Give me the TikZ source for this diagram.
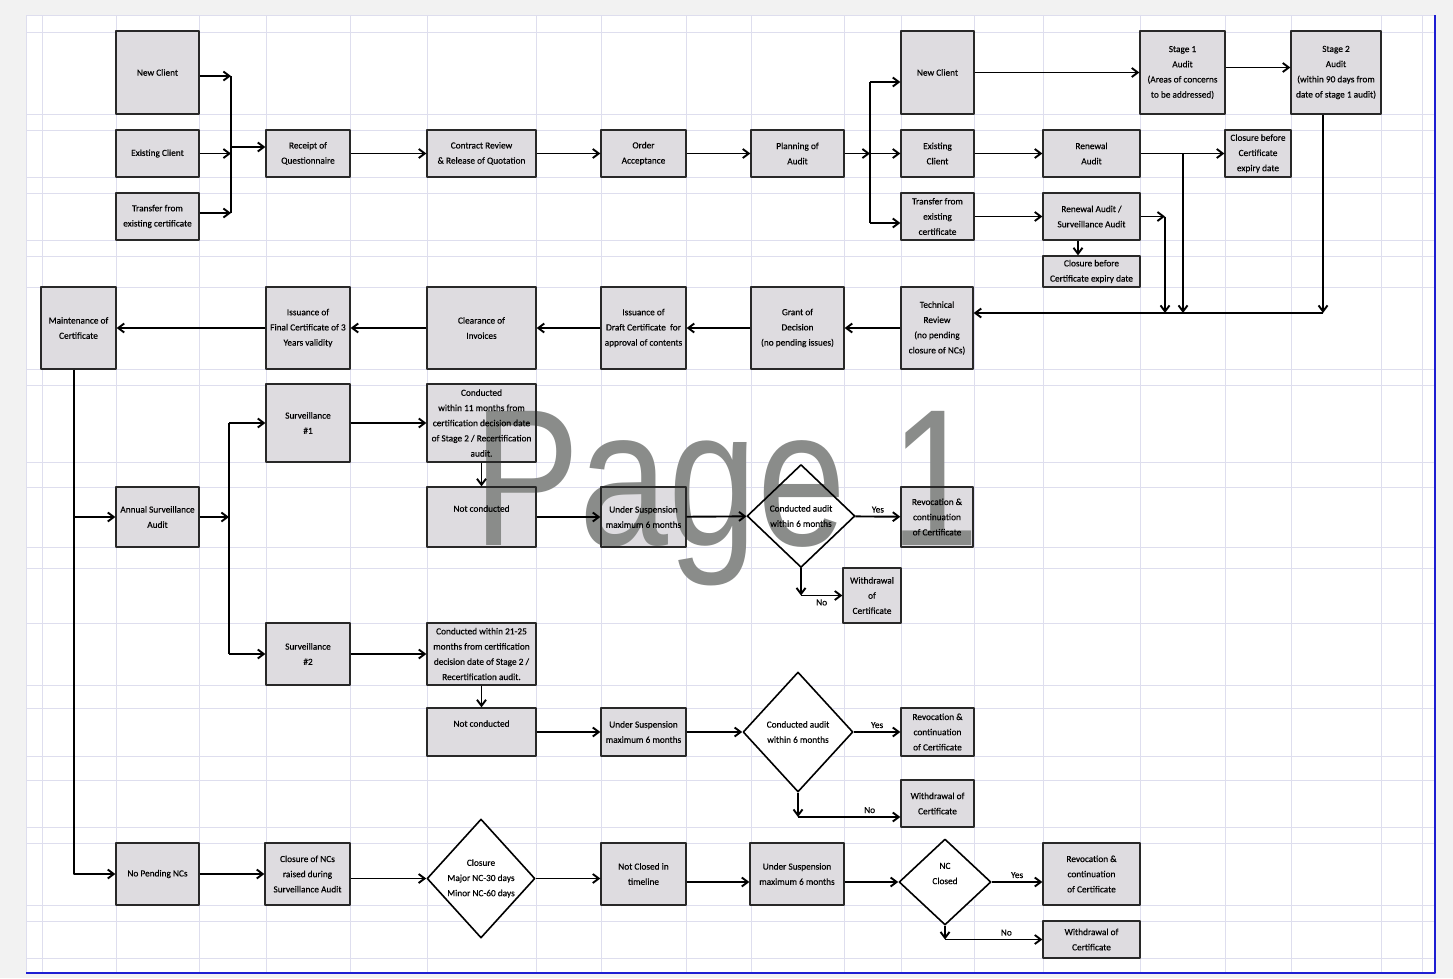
\documentclass[tikz,border=0pt]{standalone}
\usepackage{fontspec}
\setmainfont{Carlito}[FakeBold=0.3]
\newfontfamily\wmfont{Liberation Sans}
\usetikzlibrary{shapes.geometric,arrows.meta,backgrounds}
\definecolor{boxgray}{RGB}{222,220,224}
\definecolor{boxline}{RGB}{40,40,40}
\definecolor{gridc}{RGB}{222,222,238}
\definecolor{pagegray}{RGB}{242,242,242}
\definecolor{pageblue}{RGB}{30,30,210}
\definecolor{wmgray}{RGB}{138,140,138}
\begin{document}
\begin{tikzpicture}[x=1pt,y=-1pt,line join=round,>={Straight Barb[length=6pt,width=9pt]},
    box/.style={draw=boxline,line width=1.3pt,align=center,inner sep=0.5pt,font=\fontsize{9.3}{15.2}\selectfont},
    dia/.style={diamond,draw,line width=1.6pt,align=center,inner sep=0pt,font=\fontsize{9.3}{15.2}\selectfont},
    topline/.style={text depth=17pt},
    conn/.style={line width=1.9pt},
    lbl/.style={font=\fontsize{9.3}{11}\selectfont,inner sep=3pt},
    gridline/.style={draw=gridc,line width=0.9pt}]
    \useasboundingbox (0,0) rectangle (1453,978);
    \node[box,minimum width=83pt,minimum height=83pt] (nc1) at (157.5,72.5) {New Client};
    \node[box,minimum width=83pt,minimum height=47pt] (ec1) at (157.5,153.5) {Existing Client};
    \node[box,minimum width=83pt,minimum height=47pt] (tr1) at (157.5,216.5) {Transfer from\\existing certificate};
    \node[box,minimum width=84pt,minimum height=47pt] (rq) at (308,153.5) {Receipt of\\Questionnaire};
    \node[box,minimum width=109pt,minimum height=47pt] (cr) at (481.5,153.5) {Contract Review\\\& Release of Quotation};
    \node[box,minimum width=85pt,minimum height=47pt] (oa) at (643.5,153.5) {Order\\Acceptance};
    \node[box,minimum width=93pt,minimum height=47pt] (pa) at (797.5,153.5) {Planning of\\Audit};
    \node[box,minimum width=73pt,minimum height=83pt] (nc2) at (937.5,72.5) {New Client};
    \node[box,minimum width=73pt,minimum height=47pt] (ec2) at (937.5,153.5) {Existing\\Client};
    \node[box,minimum width=73pt,minimum height=47pt] (tr2) at (937.5,216.5) {Transfer from\\existing\\certificate};
    \node[box,minimum width=85pt,minimum height=83pt] (s1) at (1182.5,72.5) {Stage 1\\Audit\\(Areas of concerns\\to be addressed)};
    \node[box,minimum width=90pt,minimum height=83pt] (s2) at (1336,72.5) {Stage 2\\Audit\\(within 90 days from\\date of stage 1 audit)};
    \node[box,minimum width=97pt,minimum height=47pt] (ra) at (1091.5,153.5) {Renewal\\Audit};
    \node[box,minimum width=66pt,minimum height=47pt] (cb1) at (1258,153.5) {Closure before\\Certificate\\expiry date};
    \node[box,minimum width=97pt,minimum height=47pt] (rs) at (1091.5,216.5) {Renewal Audit /\\Surveillance Audit};
    \node[box,minimum width=97pt,minimum height=31pt] (cb2) at (1091.5,271.5) {Closure before\\Certificate expiry date};
    \node[box,minimum width=75pt,minimum height=82pt] (mc) at (78.5,328) {Maintenance of\\Certificate};
    \node[box,minimum width=84pt,minimum height=82pt] (fc) at (308,328) {Issuance of\\Final Certificate of 3\\Years validity};
    \node[box,minimum width=109pt,minimum height=82pt] (ci) at (481.5,328) {Clearance of\\Invoices};
    \node[box,minimum width=85pt,minimum height=82pt] (dc) at (643.5,328) {Issuance of\\Draft Certificate\ \ for\\approval of contents};
    \node[box,minimum width=93pt,minimum height=82pt] (gd) at (797.5,328) {Grant of\\Decision\\(no pending issues)};
    \node[box,minimum width=72pt,minimum height=82pt] (tech) at (937,328) {Technical\\Review\\(no pending\\closure of NCs)};
    \node[box,minimum width=83pt,minimum height=60pt] (asa) at (157.5,517) {Annual Surveillance\\Audit};
    \node[box,minimum width=84pt,minimum height=78pt] (sv1) at (308,423) {Surveillance\\\#1};
    \node[box,minimum width=109pt,minimum height=78pt] (cd1) at (481.5,423) {Conducted\\within 11 months from\\certification decision date\\of Stage 2 / Recertification\\audit.};
    \node[box,minimum width=109pt,minimum height=60pt,topline] (nco1) at (481.5,517) {Not conducted};
    \node[box,minimum width=85pt,minimum height=60pt] (us1) at (643.5,517) {Under Suspension\\maximum 6 months};
    \node[dia,minimum width=108pt,minimum height=103pt] (d1) at (801,516) {Conducted audit\\within 6 months};
    \node[box,minimum width=72pt,minimum height=60pt] (rv1) at (937,517) {Revocation \&\\continuation\\of Certificate};
    \node[box,minimum width=58pt,minimum height=55pt] (wd1) at (872,595.5) {Withdrawal\\of\\Certificate};
    \node[box,minimum width=84pt,minimum height=62pt] (sv2) at (308,654) {Surveillance\\\#2};
    \node[box,minimum width=109pt,minimum height=62pt] (cd2) at (481.5,654) {Conducted within 21-25\\months from certification\\decision date of Stage 2 /\\Recertification audit.};
    \node[box,minimum width=109pt,minimum height=48pt,topline] (nco2) at (481.5,732) {Not conducted};
    \node[box,minimum width=85pt,minimum height=48pt] (us2) at (643.5,732) {Under Suspension\\maximum 6 months};
    \node[dia,minimum width=110pt,minimum height=120pt] (d2) at (798,732) {Conducted audit\\within 6 months};
    \node[box,minimum width=73pt,minimum height=48pt] (rv2) at (937.5,732) {Revocation \&\\continuation\\of Certificate};
    \node[box,minimum width=73pt,minimum height=47pt] (wd2) at (937.5,803.5) {Withdrawal of\\Certificate};
    \node[box,minimum width=83pt,minimum height=62pt] (npn) at (157.5,874) {No Pending NCs};
    \node[box,minimum width=85pt,minimum height=62pt] (cn) at (307.5,874) {Closure of NCs\\raised during\\Surveillance Audit};
    \node[dia,minimum width=108pt,minimum height=119pt] (d3) at (481,878.5) {Closure\\Major NC-30 days\\Minor NC-60 days};
    \node[box,minimum width=85pt,minimum height=62pt] (ncl) at (643.5,874) {Not Closed in\\timeline};
    \node[box,minimum width=94pt,minimum height=62pt] (us3) at (797,874) {Under Suspension\\maximum 6 months};
    \node[dia,minimum width=92pt,minimum height=86pt,topline] (d4) at (945,882) {NC\\Closed};
    \node[box,minimum width=97pt,minimum height=62pt] (rv3) at (1091.5,874) {Revocation \&\\continuation\\of Certificate};
    \node[box,minimum width=97pt,minimum height=37pt] (wd3) at (1091.5,939.5) {Withdrawal of\\Certificate};
    \coordinate (bus1) at (231,147);
    \coordinate (bus2) at (870,153.5);
    \coordinate (bus2t) at (870,82);
    \coordinate (bus2b) at (870,223);
    \coordinate (j1) at (1183,153.5);
    \coordinate (j2) at (1165,216.5);
    \coordinate (trk) at (1323,313);
    \coordinate (bus3) at (229,517);
    \coordinate (nc1o) at ([yshift=-3.5pt]nc1.east);
    \coordinate (tr1o) at ([yshift=3.5pt]tr1.east);
    \coordinate (d2no) at ([yshift=-13.5pt]wd2.west);
    \draw[conn,->] (nc1o) -- (nc1o -| bus1);
    \draw[conn,->] (ec1) -- (bus1 |- ec1);
    \draw[conn,->] (tr1o) -- (tr1o -| bus1);
    \draw[conn] (nc1o -| bus1) -- (tr1o -| bus1);
    \draw[conn,->] (bus1) -- (bus1 -| rq.west);
    \draw[conn,->] (rq) -- (cr);
    \draw[conn,->] (cr) -- (oa);
    \draw[conn,->] (oa) -- (pa);
    \draw[conn,->] (pa) -- (bus2);
    \draw[conn] (bus2t) -- (bus2b);
    \draw[conn,->] (bus2t) -- (bus2t -| nc2.west);
    \draw[conn,->] (bus2) -- (ec2);
    \draw[conn,->] (bus2b) -- (bus2b -| tr2.west);
    \draw[conn,->] (nc2) -- (s1);
    \draw[conn,->] ([yshift=5pt]s1.east) -- ([yshift=5pt]s2.west);
    \draw[conn,->] (ec2) -- (ra);
    \draw[conn,->] (ra) -- (cb1);
    \draw[conn,->] (j1) -- (j1 |- trk);
    \draw[conn,->] (tr2) -- (rs);
    \draw[conn,->] (rs) -- (j2);
    \draw[conn,->] (j2) -- (j2 |- trk);
    \draw[conn,->] ([xshift=-13.5pt]rs.south) -- ([xshift=-13.5pt]cb2.north);
    \draw[conn,->] (s2.south -| trk) -- (trk);
    \draw[conn,->] (trk) -- (trk -| tech.east);
    \draw[conn,->] (tech) -- (gd);
    \draw[conn,->] (gd) -- (dc);
    \draw[conn,->] (dc) -- (ci);
    \draw[conn,->] (ci) -- (fc);
    \draw[conn,->] (fc) -- (mc);
    \draw[conn,->] ([xshift=-4.5pt]mc.south) |- (npn);
    \draw[conn,->] ([xshift=-4.5pt]mc.south |- asa) -- (asa);
    \draw[conn,->] (asa) -- (bus3);
    \draw[conn] (bus3 |- sv1) -- (bus3 |- sv2);
    \draw[conn,->] (bus3 |- sv1) -- (sv1);
    \draw[conn,->] (bus3 |- sv2) -- (sv2);
    \draw[conn,->] (sv1) -- (cd1);
    \draw[conn,->] (cd1) -- (nco1);
    \draw[conn,->] (nco1) -- (us1);
    \draw[conn,->] (us1) -- (d1);
    \draw[conn,->] (d1) -- node[lbl,above]{Yes} (rv1);
    \draw[conn,->] (d1.south) -- (d1.south |- wd1);
    \draw[conn,->] (d1.south |- wd1) -- node[lbl,below]{No} (wd1);
    \draw[conn,->] (sv2) -- (cd2);
    \draw[conn,->] (cd2) -- (nco2);
    \draw[conn,->] (nco2) -- (us2);
    \draw[conn,->] (us2) -- (d2);
    \draw[conn,->] (d2) -- node[lbl,above]{Yes} (rv2);
    \draw[conn,->] (d2.south) -- (d2.south |- d2no);
    \draw[conn,->] (d2.south |- d2no) -- node[lbl,above,pos=0.7]{No} (d2no);
    \draw[conn,->] (npn) -- (cn);
    \draw[conn,->] (cn.east |- d3) -- (d3.west);
    \draw[conn,->] (d3.east) -- (d3.east -| ncl.west);
    \draw[conn,->] (ncl.east |- d4) -- (us3.west |- d4);
    \draw[conn,->] (us3.east |- d4) -- (d4.west);
    \draw[conn,->] (d4.east) -- node[lbl,above]{Yes} (d4.east -| rv3.west);
    \draw[conn,->] (d4.south) -- (d4.south |- wd3);
    \draw[conn,->] (d4.south |- wd3) -- node[lbl,above,pos=0.63]{No} (wd3);
    \begin{scope}[on background layer]
        \fill[pagegray] (0,0) rectangle (1453,978);
        \fill[white] (26,15) rectangle (1435,973);
        \foreach \gx in {26,42,116,199,266,350,427,536,601,686,751,844,901,974,1043,1140,1225,1291,1381,1422}
            \draw[gridline] (\gx,15) -- (\gx,973);
        \foreach \gy in {15,32,114,130,177,193,240,256,287,369,385,462,487,547,568,623,685,708,756,780,827,843,905,921,958}
            \draw[gridline] (26,\gy) -- (1435,\gy);
        \foreach \n in {nc1,ec1,tr1,rq,cr,oa,pa,nc2,ec2,tr2,s1,s2,ra,cb1,rs,cb2,mc,fc,ci,dc,gd,tech,asa,sv1,cd1,nco1,us1,rv1,wd1,sv2,cd2,nco2,us2,rv2,wd2,npn,cn,ncl,us3,rv3,wd3}
            \fill[boxgray] (\n.south west) rectangle (\n.north east);
        \foreach \n in {d1,d2,d3,d4}
            \fill[white] (\n.north) -- (\n.east) -- (\n.south) -- (\n.west) -- cycle;
        \node[anchor=base west,inner sep=0pt,text=wmgray,font=\wmfont\fontsize{195}{200}\selectfont] (wm) at (473,545) {\scalebox{0.82}[1]{Page 1}};
    \end{scope}
    \draw[pageblue,line width=1.5pt] (26,973) -- (1435,973) -- (1435,15);
\end{tikzpicture}
\end{document}
